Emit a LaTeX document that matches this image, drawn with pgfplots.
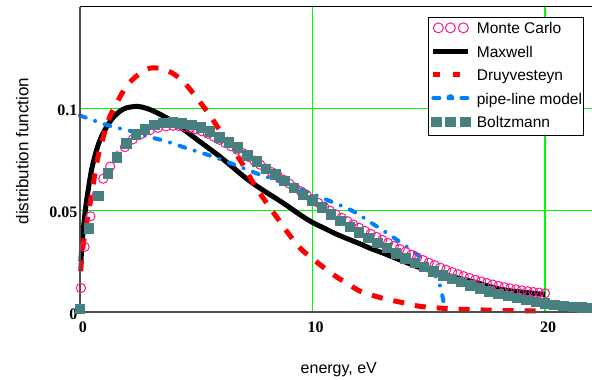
\documentclass[border=0pt]{standalone}
\usepackage{fontspec}
\setmainfont{Liberation Sans}
\newfontfamily\serifb{Liberation Serif}
\usepackage{pgfplots}
\pgfplotsset{compat=1.18}
\definecolor{mc}{RGB}{255,20,140}
\definecolor{sq}{RGB}{72,128,128}
\definecolor{pl}{RGB}{0,128,255}
\definecolor{gr}{RGB}{0,250,0}
\definecolor{ax}{RGB}{80,80,80}
\begin{document}
\begin{tikzpicture}
\begin{axis}[
  name=ax,
  scale only axis, width=511.5bp, height=305.3bp,
  xmin=0, xmax=22, ymin=0, ymax=0.15,
  clip=false,
  axis line style={draw=none},
  xtick={0,10,20}, xticklabels={0,10,20},
  ytick={0,0.05,0.1}, yticklabels={0,0.05,0.1},
  major tick length=0pt,
  grid=major, grid style={gr, line width=1.2bp},
  tick label style={font=\serifb\bfseries\fontsize{16bp}{18bp}\selectfont},
  xticklabel style={anchor=north, inner sep=0pt, yshift=-10bp, xshift=3bp},
  yticklabel style={anchor=east, inner sep=0pt, xshift=-2.5bp, yshift=-2bp},
  xlabel={energy, eV},
  ylabel={distribution function},
  xlabel style={font=\fontsize{16bp}{18bp}\selectfont, at={(axis description cs:0.506,-0.203)}, anchor=base},
  ylabel style={font=\fontsize{17bp}{19bp}\selectfont, at={(axis description cs:-0.113,0.527)}, anchor=center},
  legend style={at={(rel axis cs:0.9853,0.966)}, anchor=north east, draw=black, line width=1bp,
    fill=white, inner xsep=1.5bp, inner ysep=4bp, row sep=8bp, column sep=5bp,
    font=\fontsize{15.5bp}{18bp}\selectfont,
    nodes={inner sep=0pt, text height=12bp, text depth=3.5bp}},
  legend cell align=left,
]
% Monte Carlo
\addplot[only marks, mark=o, mark size=4.6bp, mark options={draw=mc, line width=1bp},
  legend image code/.code={\path (0,0) (37bp,0);
    \draw[mc, line width=1bp] (6bp,1.5bp) circle[radius=5bp] (18bp,1.5bp) circle[radius=5bp] (31bp,1.5bp) circle[radius=5bp];}]
coordinates {
(0.04,0.0118)(0.2,0.032)(0.45,0.047)(0.7,0.057)(1.0,0.0655)(1.3,0.0715)(1.6,0.0765)(1.93,0.081)
(2.27,0.0848)(2.65,0.0875)(3.0,0.0893)(3.35,0.0905)(3.7,0.0912)(4.0,0.0915)(4.25,0.0914)(4.5,0.0910)
(4.75,0.0905)(5.0,0.0897)(5.25,0.0888)(5.5,0.0876)(5.75,0.0862)(6.0,0.0846)(6.25,0.0830)(6.5,0.0814)
(6.75,0.0798)(7.0,0.0781)(7.25,0.0762)(7.5,0.0743)(7.75,0.0724)(8.0,0.0705)(8.25,0.0687)(8.5,0.0669)
(8.75,0.0650)(9.0,0.0631)(9.25,0.0612)(9.5,0.0593)(9.75,0.0574)(10.0,0.0555)(10.25,0.0536)(10.5,0.0517)
(10.75,0.0498)(11.0,0.0480)(11.25,0.0463)(11.5,0.0446)(11.75,0.0430)(12.0,0.0414)(12.25,0.0399)(12.5,0.0384)
(12.75,0.0369)(13.0,0.0354)(13.25,0.0339)(13.5,0.0324)(13.75,0.0310)(14.0,0.0296)(14.25,0.0282)(14.5,0.0268)
(14.75,0.0255)(15.0,0.0242)(15.25,0.0230)(15.5,0.0218)(15.75,0.0207)(16.0,0.0196)(16.25,0.0186)(16.5,0.0176)
(16.75,0.0167)(17.0,0.0158)(17.25,0.0150)(17.5,0.0142)(17.75,0.0135)(18.0,0.0128)(18.25,0.0122)(18.5,0.0116)
(18.75,0.0111)(19.0,0.0106)(19.25,0.0102)(19.5,0.0098)(19.75,0.0095)(20.0,0.0092)
};
\addlegendentry{Monte Carlo}
% Maxwell
\addplot[black, line width=5bp, smooth, line join=round,
  legend image code/.code={\path (0,0) (37bp,0); \draw[black, line width=5bp] (1bp,1.5bp) -- (36bp,1.5bp);}]
coordinates {
(0.04,0.025)(0.1,0.035)(0.2,0.047)(0.3,0.056)(0.5,0.070)(0.75,0.081)(1.0,0.088)(1.35,0.0945)
(1.7,0.0985)(2.0,0.1003)(2.5,0.1010)(3.0,0.0995)(3.5,0.0968)(4.0,0.0935)(4.5,0.0893)(5.0,0.0850)
(5.5,0.0808)(6.0,0.0765)(6.5,0.0718)(7.0,0.0670)(7.5,0.0627)(8.0,0.0589)(8.5,0.0553)(9.0,0.0515)
(9.5,0.0475)(10.0,0.0440)(10.5,0.0412)(11.0,0.0384)(11.5,0.0360)(12.0,0.0337)(12.5,0.0312)(13.0,0.0291)
(13.5,0.0268)(14.0,0.0245)(14.5,0.0223)(15.0,0.0206)(15.5,0.0190)(16.0,0.0174)(16.5,0.0160)(17.0,0.0146)
(17.5,0.0129)(18.0,0.0114)(18.5,0.0104)(19.0,0.0098)(19.5,0.0092)(20.0,0.0086)
};
\addlegendentry{Maxwell}
% Druyvesteyn
\addplot[red, line width=5bp, smooth, dash pattern=on 11bp off 11bp,
  legend image code/.code={\path (0,0) (37bp,0); \draw[red, line width=5bp] (1bp,1.5bp) -- (8bp,1.5bp) (21bp,1.5bp) -- (28bp,1.5bp);}]
coordinates {
(0.03,0.020)(0.1,0.030)(0.25,0.041)(0.5,0.058)(0.75,0.075)(1.0,0.086)(1.25,0.095)(1.5,0.101)
(2.0,0.111)(2.5,0.1165)(3.0,0.1198)(3.5,0.1195)(4.0,0.1172)(4.5,0.1125)(5.0,0.1055)(5.5,0.0980)
(6.0,0.0895)(6.5,0.0815)(7.0,0.0725)(7.5,0.0625)(8.0,0.0540)(8.5,0.0460)(9.0,0.0380)(9.5,0.0310)
(10.0,0.0262)(10.5,0.0217)(11.0,0.0175)(11.5,0.0140)(12.0,0.0105)(12.5,0.0085)(13.0,0.0068)(13.5,0.0055)
(14.0,0.0043)(14.5,0.0030)(15.0,0.0023)(15.5,0.0019)(16.0,0.0015)(17.0,0.0011)(18.0,0.0008)(19.0,0.0006)
(20.0,0.0005)
};
\addlegendentry{Druyvesteyn}
% pipe-line model
\addplot[pl, line width=4bp, smooth, line cap=round, dash pattern=on 6bp off 10bp on 0bp off 10bp,
  legend image code/.code={\path (0,0) (37bp,0);
    \draw[pl, line width=4bp] (1bp,1.5bp) -- (7bp,1.5bp) (29bp,1.5bp) -- (36bp,1.5bp);
    \fill[pl] (18bp,1.5bp) circle[radius=2bp];}]
coordinates {
(0,0.0965)(0.5,0.0945)(1.0,0.0925)(1.5,0.0907)(2.0,0.0895)(2.5,0.0878)(3.0,0.0860)(3.5,0.0845)
(4.0,0.0828)(4.5,0.0808)(5.0,0.0790)(5.5,0.0772)(6.0,0.0752)(6.5,0.0730)(7.0,0.0708)(7.5,0.0685)
(8.0,0.0665)(8.5,0.0645)(9.0,0.0625)(9.5,0.0603)(10.0,0.0580)(10.5,0.0557)(11.0,0.0533)(11.5,0.0510)
(12.0,0.0478)(12.5,0.0440)(13.0,0.0403)(13.5,0.0365)(14.0,0.0325)(14.5,0.0282)(15.0,0.0228)(15.25,0.0185)
(15.5,0.0125)(15.6,0.0070)(15.7,0.0020)
};
\addlegendentry{pipe-line model}
% Boltzmann
\addplot[only marks, mark=square*, mark size=4.7bp, mark options={draw=sq, fill=sq, line width=0pt},
  legend image code/.code={\path (0,0) (37bp,0);
    \fill[sq] (-0.7bp,-3.2bp) rectangle (8.7bp,6.2bp) (13.3bp,-3.2bp) rectangle (22.7bp,6.2bp) (28.3bp,-3.2bp) rectangle (37.7bp,6.2bp);}]
coordinates {
(0.0,0.0015)(0.4,0.041)(0.8,0.057)(1.2,0.068)(1.6,0.076)(2.0,0.0828)(2.4,0.0872)(2.8,0.0897)
(3.2,0.092)(3.6,0.093)(4.0,0.0932)(4.4,0.0926)(4.8,0.092)(5.2,0.0906)(5.6,0.0887)(6.0,0.0857)
(6.4,0.0833)(6.8,0.0808)(7.2,0.0768)(7.6,0.074)(8.0,0.0704)(8.4,0.0675)(8.8,0.0645)(9.2,0.061)
(9.6,0.0576)(10.0,0.0547)(10.4,0.0514)(10.8,0.048)(11.2,0.0448)(11.6,0.0419)(12.0,0.039)(12.4,0.0365)
(12.8,0.034)(13.2,0.0315)(13.6,0.0288)(14.0,0.0263)(14.4,0.0241)(14.8,0.0222)(15.2,0.0199)(15.6,0.0179)
(16.0,0.0163)(16.4,0.0148)(16.8,0.0130)(17.2,0.0115)(17.6,0.0100)(18.0,0.0089)(18.4,0.0079)(18.8,0.0069)
(19.2,0.0059)(19.6,0.0050)(20.0,0.0041)(20.4,0.0035)(20.8,0.0030)(21.2,0.0026)(21.6,0.0022)(22.0,0.0019)
};
\addlegendentry{Boltzmann}
\draw[ax, line width=1.6bp] (rel axis cs:0,1) -- (rel axis cs:0,0) -- (rel axis cs:1,0);
\draw[black, line width=1bp] (rel axis cs:0,1) -- (rel axis cs:1,1);
\end{axis}
\pgfresetboundingbox
\path[use as bounding box] ([shift={(-80bp,-68bp)}]ax.south west) rectangle ([shift={(0.5bp,6.7bp)}]ax.north east);
\end{tikzpicture}
\end{document}
